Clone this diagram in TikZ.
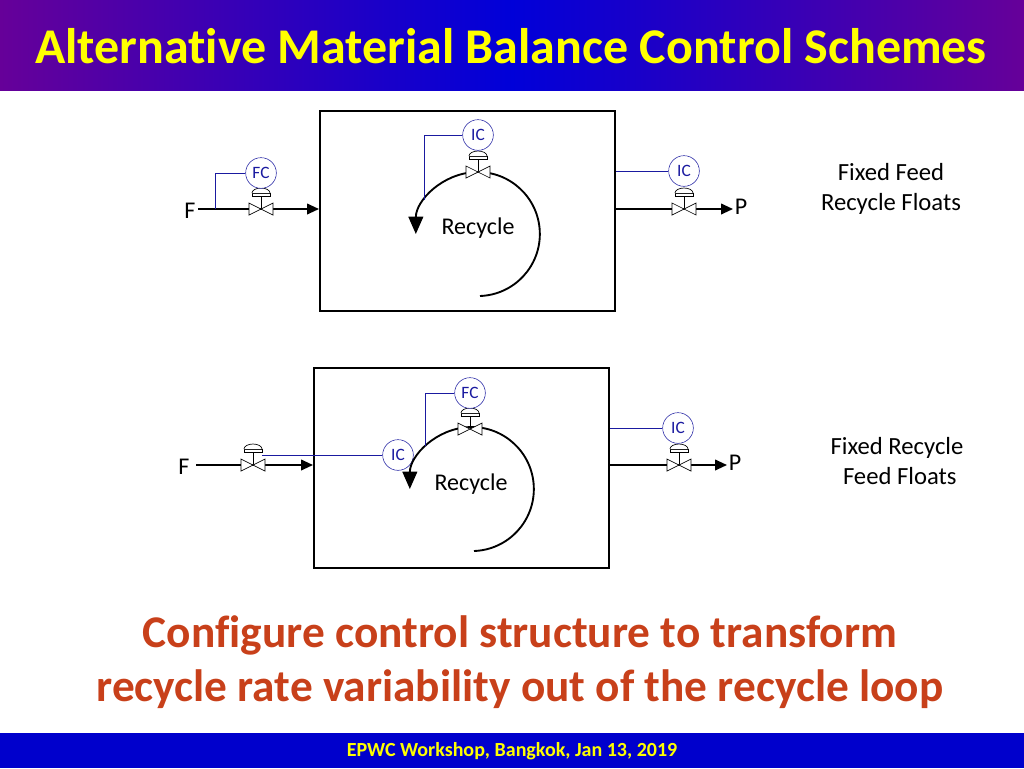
\documentclass[tikz,border=0pt]{standalone}
\usepackage{fontspec}
\setmainfont{Carlito}[Ligatures={NoCommon}]
\usetikzlibrary{arrows.meta}
\definecolor{ctl}{HTML}{1A1AA0}
\definecolor{org}{HTML}{C8401A}
\definecolor{ttl}{HTML}{FFFF00}
\tikzset{
 ctrl/.style={circle,draw=ctl,text=ctl,minimum size=23pt,inner sep=0pt,font=\fontsize{13}{13}\selectfont,fill=white},
 sig/.style={draw=ctl,line width=0.6pt},
 pipe/.style={line width=1.4pt},
 flow/.style={pipe,-{Triangle[length=9pt,width=8pt]}},
 lbl/.style={font=\fontsize{18}{18}\selectfont},
 side/.style={font=\fontsize{18.5}{23}\selectfont,align=center},
 vessel/.style={draw,line width=1.8pt},
 pics/valve/.style={code={
   \draw[line width=0.5pt] (0,0)--(0,-13);
   \draw[line width=0.5pt,fill=white] (-9,-13) rectangle (9,-16);
   \draw[line width=0.5pt,fill=white] (-9,-16) arc[start angle=180,end angle=360,x radius=9,y radius=5];
   \draw[line width=0.5pt,fill=white] (-12,-6)--(12,6)--(12,-6)--(-12,6)--cycle;
 }}
}
\begin{document}
\begin{tikzpicture}[x=0.75pt,y=-0.75pt]
\useasboundingbox (0,0) rectangle (1024,768);
% title
\shade[left color=violet!80!blue,right color=violet!80!blue,middle color=blue!85!black] (0,0) rectangle (1024,90);
\node[font=\fontsize{37.5}{38}\selectfont\bfseries,text=ttl] (title) at (511,46) {Alternative Material Balance Control Schemes};
% footer
\fill[blue!80!black] (0,733) rectangle (1024,768);
\node[font=\fontsize{15}{15}\selectfont\bfseries,text=ttl] (foot) at (512,751) {EPWC Workshop, Bangkok, Jan 13, 2019};

% ===== top diagram =====
\node[vessel,minimum width=221.25pt,minimum height=150pt,inner sep=0pt] (box1) at (467.5,211) {};
\node[lbl] (F1) at (190,211) {F};
\coordinate (f1s) at (198,209);
\coordinate (f1e) at (319,209);
\draw[flow] (f1s) -- (f1e);
\pic at (261,209) {valve};
\node[ctrl] (fc1) at (261,173) {FC};
\draw[sig] (fc1.west) -| (215,209);
% recycle
\draw[pipe,-{Triangle[length=13pt,width=11pt]}] (480,296) arc[start angle=88,end angle=-180,radius=62];
\pic at (478,172) {valve};
\node[ctrl] (ic1) at (478,135) {IC};
\draw[sig] (ic1.west) -| (424,200);
\node[lbl] (rec1) at (478,228) {Recycle};
% product
\coordinate (p1s) at (616,209);
\coordinate (p1e) at (733,209);
\draw[flow] (p1s) -- (p1e);
\pic at (684,209) {valve};
\node[ctrl] (ic2) at (684,171) {IC};
\draw[sig] (616,171) -- (ic2.west);
\node[lbl] (P1) at (741,207) {P};
\node[side] (t1) at (891,189) {Fixed Feed\\Recycle Floats};

% ===== bottom diagram =====
\node[vessel,minimum width=221.25pt,minimum height=150pt,inner sep=0pt] (box2) at (461.5,468) {};
\node[lbl] (F2) at (184,467) {F};
\coordinate (f2s) at (196,465);
\coordinate (f2e) at (313,465);
\draw[flow] (f2s) -- (f2e);
\pic at (253,465) {valve};
\node[ctrl] (ic3) at (398,455) {IC};
\draw[sig] (262,455) -- (ic3.west);
\draw[pipe,-{Triangle[length=13pt,width=11pt]}] (474,551) arc[start angle=88,end angle=-180,radius=62];
\pic at (470,429) {valve};
\node[ctrl] (fc2) at (470,393) {FC};
\draw[sig] (fc2.west) -| (425,446);
\node[lbl] (rec2) at (471,484) {Recycle};
\coordinate (p2s) at (610,465);
\coordinate (p2e) at (727,465);
\draw[flow] (p2s) -- (p2e);
\pic at (679,465) {valve};
\node[ctrl] (ic4) at (678,428) {IC};
\draw[sig] (610,428) -- (ic4.west);
\node[lbl] (P2) at (735,463) {P};
\node[side] (t2) at (897,461) {Fixed Recycle\\\ Feed Floats};

% bottom text
\node[font=\fontsize{34}{41}\selectfont\bfseries,text=org,align=center] (msg) at (520,662) {Configure control structure to transform\\recycle rate variability out of the recycle loop};
\end{tikzpicture}
\end{document}
